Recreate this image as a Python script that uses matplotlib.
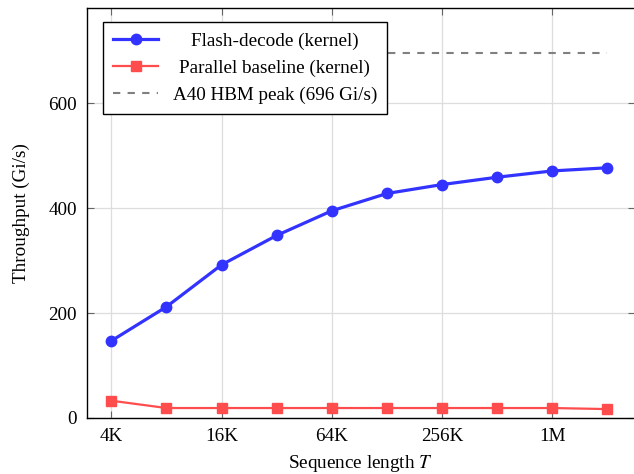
#!/usr/bin/env python3
"""Flash-decode vs parallel baseline kernel throughput over sequence length."""

import matplotlib
matplotlib.use("Agg")
import matplotlib.pyplot as plt
from matplotlib.ticker import FixedLocator, NullLocator

plt.rcParams["font.family"] = ["Liberation Serif", "DejaVu Serif"]
plt.rcParams["mathtext.fontset"] = "stix"

SEQ_LEN = [4096, 8192, 16384, 32768, 65536, 131072, 262144, 524288, 1048576, 2097152]
FLASH = [147, 212, 292, 348, 395, 428, 445, 459, 471, 477]
PARALLEL = [33, 19, 19, 19, 19, 19, 19, 19, 19, 17]
HBM_PEAK = 696
X_TICKS = [4096, 16384, 65536, 262144, 1048576]
X_TICK_LABELS = ["4K", "16K", "64K", "256K", "1M"]
Y_TICKS = [0, 200, 400, 600]

BLUE = "#3333ff"
RED = "#ff4c4c"
GRAY = "#808080"
FS = 13.8


def main() -> None:
    fig = plt.figure(figsize=(6.34, 4.74), dpi=100)
    ax = fig.add_axes([86.7 / 634, 56 / 474, (635 - 86.7) / 634, (465.7 - 56) / 474])

    ax.plot(SEQ_LEN, FLASH, "-o", color=BLUE, lw=2.3, ms=7.5,
            label="Flash-decode (kernel)", zorder=4)
    ax.plot(SEQ_LEN, PARALLEL, "-s", color=RED, lw=1.6, ms=7,
            label="Parallel baseline (kernel)", zorder=3)
    ax.plot([SEQ_LEN[0], SEQ_LEN[-1]], [HBM_PEAK, HBM_PEAK], color=GRAY,
            lw=1.5, ls=(0, (3.5, 3.5)), label=f"A40 HBM peak ({HBM_PEAK} Gi/s)", zorder=2)

    ax.set_xscale("log", base=2)
    ax.set_xlim(2 ** 11.554, 2 ** 21.5)
    ax.set_ylim(0, 781)
    ax.xaxis.set_major_locator(FixedLocator(X_TICKS))
    ax.xaxis.set_minor_locator(NullLocator())
    ax.set_xticklabels(X_TICK_LABELS)
    ax.set_yticks(Y_TICKS)

    ax.grid(True, color="#dddddd", lw=0.9, zorder=0)
    ax.set_axisbelow(True)
    ax.tick_params(direction="in", length=5, width=0.8, color="#666666",
                   labelsize=FS, pad=7, right=True, top=True)
    for s in ax.spines.values():
        s.set_linewidth(1.0)
        s.set_color("black")

    ax.set_xlabel("Sequence length $T$", fontsize=FS, labelpad=6)
    ax.set_ylabel("Throughput (Gi/s)", fontsize=FS, labelpad=13)

    leg = ax.legend(loc="upper left", bbox_to_anchor=(0.0297, 0.9666),
                    borderaxespad=0, fancybox=False, framealpha=1,
                    edgecolor="black", fontsize=FS, handlelength=2.35,
                    labelspacing=0.51, borderpad=0.53, handletextpad=0.75)
    leg.get_frame().set_linewidth(1.0)

    # centre the legend labels inside the text column
    fig.canvas.draw()
    texts = leg.get_texts()
    widths = [t.get_window_extent().width for t in texts]
    for t, w in zip(texts, widths):
        t.set_x((max(widths) - w) / 2)

    fig.savefig("out.png", dpi=100)


if __name__ == "__main__":
    main()
